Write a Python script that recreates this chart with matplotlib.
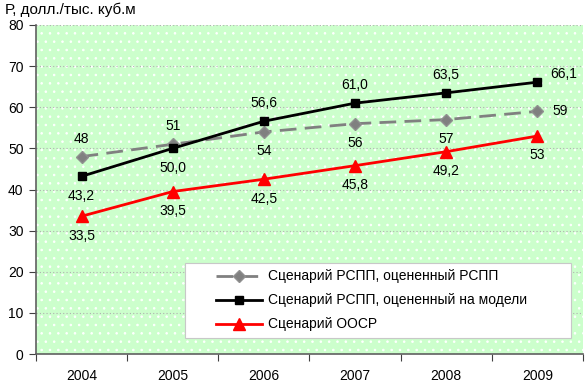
import numpy as np
import matplotlib
matplotlib.use('Agg')
import matplotlib.pyplot as plt
from matplotlib.patches import Rectangle

plt.rcParams['font.family'] = ['Liberation Sans', 'DejaVu Sans']
plt.rcParams['hatch.color'] = 'white'
plt.rcParams['hatch.linewidth'] = 0.6

# ---- data ----
years = ['2004', '2005', '2006', '2007', '2008', '2009']
rspp_rspp = [48, 51, 54, 56, 57, 59]
rspp_model = [43.2, 50.0, 56.6, 61.0, 63.5, 66.1]
oecd = [33.5, 39.5, 42.5, 45.8, 49.2, 53]

lbl_rspp_rspp = ['48', '51', '54', '56', '57', '59']
lbl_rspp_model = ['43,2', '50,0', '56,6', '61,0', '63,5', '66,1']
lbl_oecd = ['33,5', '39,5', '42,5', '45,8', '49,2', '53']

names = ['Сценарий РСПП, оцененный РСПП',
         'Сценарий РСПП, оцененный на модели',
         'Сценарий ООСР']

# label placement (offset in points)
pos_rspp_rspp = ['a', 'a', 'b', 'b', 'b', 'r']
pos_rspp_model = ['b', 'b', 'a', 'a', 'a', 'ar']
pos_oecd = ['b'] * 6

OFFS = {'a': (0, 13), 'b': (0, -14), 'r': (16, 0), 'ar': (19, 6)}

fig = plt.figure(figsize=(5.85, 3.85), dpi=100)
ax = fig.add_axes([36 / 585, 31 / 385, 547 / 585, 329 / 385])
ax.set_facecolor('#ccffcc')
# dotted fill pattern of the plot area
ax.add_patch(Rectangle((0, 0), 1, 1, transform=ax.transAxes, facecolor='none',
                       hatch='..', linewidth=0, zorder=0))

x = np.arange(len(years))

ax.plot(x, rspp_rspp, color='#808080', linestyle=(0, (6, 3)), linewidth=2,
        marker='D', markersize=6.5, markerfacecolor='#808080',
        markeredgecolor='#909090', label=names[0], zorder=3)
ax.plot(x, rspp_model, color='black', linewidth=2,
        marker='s', markersize=6, label=names[1], zorder=4)
ax.plot(x, oecd, color='red', linewidth=2,
        marker='^', markersize=8.5, label=names[2], zorder=4)

for vals, lbls, poss in [(rspp_rspp, lbl_rspp_rspp, pos_rspp_rspp),
                         (rspp_model, lbl_rspp_model, pos_rspp_model),
                         (oecd, lbl_oecd, pos_oecd)]:
    for xi, v, t, p in zip(x, vals, lbls, poss):
        ax.annotate(t, (xi, v), xytext=OFFS[p], textcoords='offset points',
                    ha='center', va='center', fontsize=10, color='black')

ax.set_xlim(-0.5, len(years) - 0.5)
ax.set_ylim(0, 80)
ax.set_yticks(np.arange(0, 81, 10))
ax.yaxis.grid(True, color='#b0b0b0', linestyle=(0, (1, 2)), linewidth=0.8)
ax.set_axisbelow(True)

ax.set_xticks(np.arange(-0.5, len(years), 1.0))
ax.set_xticklabels([])
ax.set_xticks(x, minor=True)
ax.set_xticklabels(years, minor=True)
ax.tick_params(axis='x', which='minor', length=0, pad=11, labelsize=10)
ax.tick_params(axis='x', which='major', direction='out', length=5, color='#404040')
ax.tick_params(axis='y', direction='out', length=5, color='#404040', labelsize=10, pad=4)

for s in ['top', 'right']:
    ax.spines[s].set_visible(False)
for s in ['left', 'bottom']:
    ax.spines[s].set_color('#606060')
    ax.spines[s].set_linewidth(1.2)

# legend box drawn separately to get the wide left margin
ax.add_patch(Rectangle((0.272, 0.049), 0.706, 0.228, transform=ax.transAxes,
                       facecolor='white', edgecolor='#c8c8c8', linewidth=0.8,
                       zorder=5))
leg = ax.legend(loc='center left', bbox_to_anchor=(0.329, 0.163), fontsize=10,
                frameon=False, handlelength=3.3, handletextpad=0.45,
                borderpad=0, borderaxespad=0, labelspacing=0.72)
leg.set_zorder(6)

fig.text(5 / 585, 1 - 10 / 385, 'Р, долл./тыс. куб.м', fontsize=11,
         ha='left', va='center')

fig.savefig('out.png', dpi=100)
